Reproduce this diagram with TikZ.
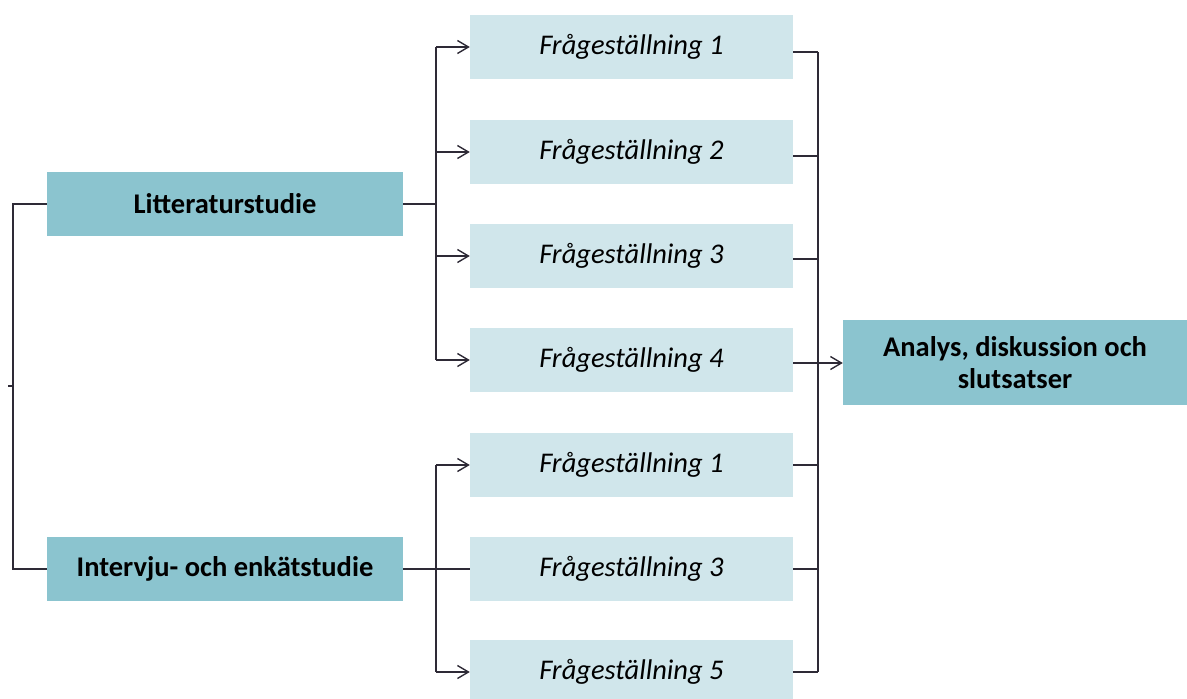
\documentclass[tikz,border=0pt]{standalone}
\usepackage{fontspec}
\setmainfont{Carlito}
\usetikzlibrary{arrows.meta}
\definecolor{darkbox}{HTML}{8BC4CF}
\definecolor{lightbox}{HTML}{D0E6EB}
\definecolor{linecol}{HTML}{2E2A36}
\tikzset{
  mainbox/.style={fill=darkbox, minimum width=356pt, minimum height=64pt, inner sep=0pt,
    font=\fontsize{28.5}{32}\selectfont\bfseries},
  qbox/.style={fill=lightbox, minimum width=323pt, minimum height=64pt, inner sep=0pt,
    font=\fontsize{28.5}{32}\selectfont\itshape},
  endbox/.style={fill=darkbox, minimum width=344pt, minimum height=85pt, inner sep=0pt,
    align=center, font=\fontsize{28.5}{32}\selectfont\bfseries},
  conn/.style={draw=linecol, line width=1.6pt},
  arr/.style={conn, -{Straight Barb[length=11pt,width=13pt,line width=1.4pt]}},
}
\begin{document}
\begin{tikzpicture}[x=1pt,y=-1pt]
\useasboundingbox (0,0) rectangle (1187,699);
\begin{scope}
\clip (0,0) rectangle (1187,699);
% study boxes
\node[mainbox] (lit) at (225,204) {Litteraturstudie};
\node[mainbox] (int) at (225,569) {Intervju- och enkätstudie};
% research questions
\node[qbox] (q1) at (631.5,47)  {Frågeställning 1};
\node[qbox] (q2) at (631.5,152) {Frågeställning 2};
\node[qbox] (q3) at (631.5,256) {Frågeställning 3};
\node[qbox] (q4) at (631.5,360) {Frågeställning 4};
\node[qbox] (q5) at (631.5,465) {Frågeställning 1};
\node[qbox] (q6) at (631.5,569) {Frågeställning 3};
\node[qbox] (q7) at (631.5,672) {Frågeställning 5};
% conclusion box
\node[endbox] (ana) at (1015,362.5) {Analys, diskussion och\\slutsatser};
\end{scope}

% bracket joining the two studies
\coordinate (lb) at (13,386);
\coordinate (tick) at (8,386);
\draw[conn] (lit.west) -| (13,569) -- (int.west);
\draw[conn] (tick) -- (lb);

% literature study to its questions
\coordinate (ja) at (436,204);
\draw[conn] (lit.east) -- (ja);
\draw[conn] (q1.west -| ja) -- (q4.west -| ja);
\foreach \q in {q1,q2,q3,q4}
  \draw[arr] (\q.west -| ja) -- (\q.west);

% interview study to its questions
\coordinate (jb) at (436,569);
\draw[conn] (q5.west -| jb) -- (q7.west -| jb);
\draw[conn] (int.east) -- (q6.west);
\foreach \q in {q5,q7}
  \draw[arr] (\q.west -| jb) -- (\q.west);

% all questions gathered into the analysis
\coordinate (jc) at (818,0);
\draw[conn, line width=1.3pt] ([yshift=-5pt]q1.east -| jc) -- (q7.east -| jc);
\draw[conn, line width=1.3pt] ([yshift=-5pt]q1.east) -- ([yshift=-5pt]q1.east -| jc);
\draw[conn, line width=1.3pt] ([yshift=-4pt]q2.east) -- ([yshift=-4pt]q2.east -| jc);
\draw[conn, line width=1.3pt] ([yshift=-3pt]q3.east) -- ([yshift=-3pt]q3.east -| jc);
\foreach \q in {q5,q6,q7}
  \draw[conn, line width=1.3pt] (\q.east) -- (\q.east -| jc);
\draw[arr, line width=1.3pt] ([yshift=-3pt]q4.east) -- ([yshift=-3pt]q4.east -| ana.west);
\end{tikzpicture}
\end{document}
